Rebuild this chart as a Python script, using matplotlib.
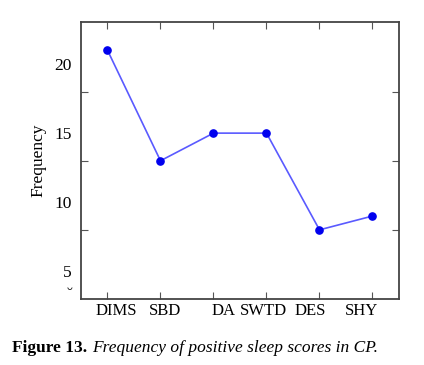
import matplotlib

matplotlib.use("Agg")
import matplotlib.pyplot as plt
from matplotlib.transforms import ScaledTranslation

categories = ["DIMS", "SBD", "DA", "SWTD", "DES", "SHY"]
frequency = [21, 13, 15, 15, 8, 9]

# the source image has tick labels and tick marks at different heights
label_values = [3.4, 5, 10, 15, 20]
label_texts = ["˘", "5", "10", "15", "20"]
mark_values = [8, 13, 18]
# horizontal nudges of category labels, in pixels
label_shift = [8.5, 5, 10, -3, -9, -11]

plt.rcParams["font.family"] = ["Liberation Serif", "DejaVu Serif"]

fig = plt.figure(figsize=(4.24, 3.65), dpi=100)
ax = fig.add_axes([0.191, 0.181, 0.750, 0.759])

x = list(range(len(categories)))
ax.plot(x, frequency, color="#5a5aff", lw=1.2, zorder=2)
ax.plot(x, frequency, "o", color="#0000ee", ms=5.2, zorder=3)

ax.set_xlim(-0.5, 5.5)
ax.set_ylim(3, 23.05)

ax.set_xticks(x)
ax.set_xticklabels(categories, fontsize=12)
ax.tick_params(axis="x", direction="in", length=5, width=0.8, color="#555555",
               top=True, pad=3)
for lab, dx in zip(ax.get_xticklabels(), label_shift):
    lab.set_transform(lab.get_transform() + ScaledTranslation(dx / 100, 0, fig.dpi_scale_trans))

ax.set_yticks(label_values)
ax.set_yticklabels(label_texts, fontsize=12.5)
ax.set_yticks(mark_values, minor=True)
ax.tick_params(axis="y", which="major", length=0, pad=6.5)
ax.tick_params(axis="y", which="minor", direction="in", length=5, width=0.8,
               color="#555555", right=True)

for s in ax.spines.values():
    s.set_color("#444444")
    s.set_linewidth(1.3)

ax.set_ylabel("Frequency", fontsize=12.5, labelpad=6)

fig.text(12 / 424, 1 - 348 / 365, "Figure 13.", fontsize=12.5, fontweight="bold",
         va="center", ha="left")
fig.text(92 / 424, 1 - 348 / 365, "Frequency of positive sleep scores in CP.",
         fontsize=12.5, style="italic", va="center", ha="left")

fig.savefig("out.png", dpi=100)
